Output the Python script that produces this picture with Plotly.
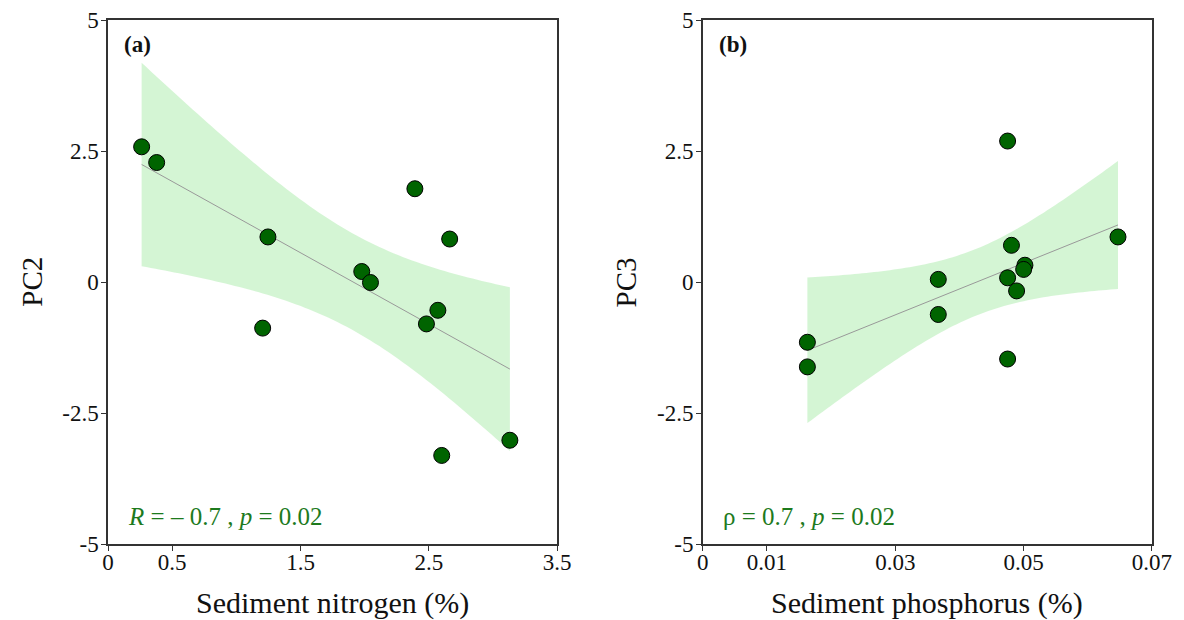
import numpy as np
import plotly.graph_objects as go
from plotly.subplots import make_subplots

# Panel (a): sediment nitrogen vs PC2
nitrogen = [0.262, 0.379, 1.246, 1.205, 2.391, 1.977, 2.045, 2.662, 2.570, 2.481, 2.600, 3.131]
pc2 = [2.58, 2.28, 0.86, -0.88, 1.78, 0.20, -0.01, 0.82, -0.54, -0.80, -3.31, -3.02]

# Panel (b): sediment phosphorus vs PC3
phosphorus = [0.0163, 0.0163, 0.0367, 0.0367, 0.0475, 0.0481, 0.0475, 0.0489, 0.0502, 0.0500, 0.0475, 0.0647]
pc3 = [-1.15, -1.62, 0.05, -0.62, 2.69, 0.70, 0.08, -0.17, 0.32, 0.24, -1.47, 0.86]

x_ticks_a = [0, 0.5, 1.5, 2.5, 3.5]
x_ticks_b = [0, 0.01, 0.03, 0.05, 0.07]
y_ticks = [5, 2.5, 0, -2.5, -5]
y_ticktext = ["5", "2.5", "0", "-2.5", "-5"]

stat_a = "<i>R</i> = \u2013 0.7 , <i>p</i> = 0.02"
stat_b = "\u03c1 = 0.7 , <i>p</i> = 0.02"

T_CRIT = 2.228  # t(0.975, df=10)

FONT = "Liberation Serif"
BAND = "rgba(170,235,170,0.5)"
PT_FILL = "#006400"
TXT_GREEN = "#1d7a1d"


def fit_band(x, y, n_grid=80):
    x = np.asarray(x, float)
    y = np.asarray(y, float)
    n = len(x)
    b, a = np.polyfit(x, y, 1)
    resid = y - (a + b * x)
    s = np.sqrt(np.sum(resid ** 2) / (n - 2))
    sxx = np.sum((x - x.mean()) ** 2)
    xs = np.linspace(x.min(), x.max(), n_grid)
    ys = a + b * xs
    se = s * np.sqrt(1.0 / n + (xs - x.mean()) ** 2 / sxx)
    return xs, ys, ys - T_CRIT * se, ys + T_CRIT * se


fig = make_subplots(rows=1, cols=2, horizontal_spacing=0.1394)

for col, (xv, yv) in enumerate([(nitrogen, pc2), (phosphorus, pc3)], start=1):
    xs, ys, lo, hi = fit_band(xv, yv)
    fig.add_trace(go.Scatter(x=np.concatenate([xs, xs[::-1]]),
                             y=np.concatenate([hi, lo[::-1]]),
                             fill="toself", fillcolor=BAND, mode="none",
                             hoverinfo="skip", showlegend=False), row=1, col=col)
    fig.add_trace(go.Scatter(x=xs, y=ys, mode="lines",
                             line=dict(color="#999999", width=1),
                             showlegend=False), row=1, col=col)
    fig.add_trace(go.Scatter(x=xv, y=yv, mode="markers",
                             marker=dict(size=16, color=PT_FILL,
                                         line=dict(color="#000000", width=1)),
                             showlegend=False), row=1, col=col)

axis_common = dict(showline=True, linecolor="#333333", linewidth=1.5, mirror=True,
                   ticks="outside", ticklen=5, tickcolor="#333333", tickwidth=1,
                   showgrid=False, zeroline=False, automargin=False,
                   tickfont=dict(family=FONT, size=23, color="#111111"))

fig.update_xaxes(**axis_common)
fig.update_yaxes(**axis_common)
fig.update_xaxes(ticklabelstandoff=-8)
fig.update_yaxes(ticklabelstandoff=-2)
fig.update_xaxes(range=[0, 3.5], tickvals=x_ticks_a, ticktext=[str(v) for v in x_ticks_a], row=1, col=1)
fig.update_xaxes(range=[0, 0.07], tickvals=x_ticks_b, ticktext=[str(v) for v in x_ticks_b], row=1, col=2)
fig.update_yaxes(range=[-5, 5], tickvals=y_ticks, ticktext=y_ticktext)

annotations = []
for xref, yref, label, stat, ytitle, xtitle in [
        ("x domain", "y domain", "(a)", stat_a, "PC2", "Sediment nitrogen (%)"),
        ("x2 domain", "y2 domain", "(b)", stat_b, "PC3", "Sediment phosphorus (%)")]:
    annotations += [
        dict(xref=xref, yref=yref, x=0.031, y=0.954, text="<b>%s</b>" % label,
             showarrow=False, xanchor="left", yanchor="middle",
             font=dict(family=FONT, size=23, color="#111111")),
        dict(xref=xref, yref=yref, x=0.040, y=0.052, text=stat,
             showarrow=False, xanchor="left", yanchor="middle",
             font=dict(family=FONT, size=25, color=TXT_GREEN)),
        dict(xref=xref, yref=yref, x=-0.17, y=0.5, text=ytitle, textangle=-90,
             showarrow=False, xanchor="center", yanchor="middle",
             font=dict(family=FONT, size=29, color="#111111")),
        dict(xref=xref, yref=yref, x=0.5, y=-0.113, text=xtitle,
             showarrow=False, xanchor="center", yanchor="middle",
             font=dict(family=FONT, size=30, color="#111111")),
    ]

fig.update_layout(width=1184, height=620,
                  margin=dict(l=107.5, r=32, t=19.7, b=76),
                  paper_bgcolor="white", plot_bgcolor="white",
                  annotations=annotations, showlegend=False)

fig.write_html("out.html")
